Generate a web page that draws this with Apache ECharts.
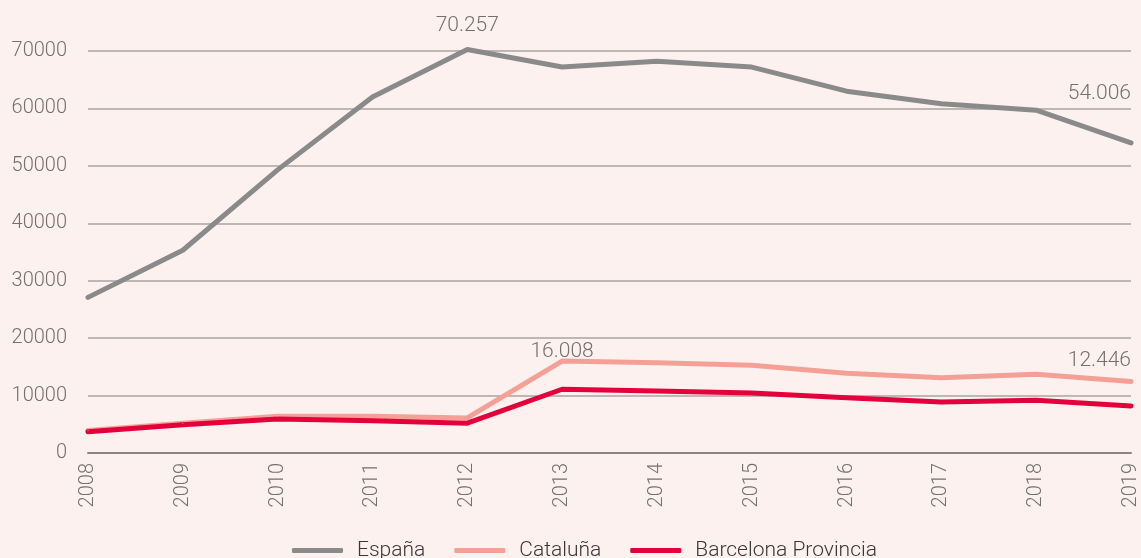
<!DOCTYPE html>
<html>
<head>
<meta charset="utf-8">
<script src="https://cdn.jsdelivr.net/npm/echarts@6/dist/echarts.min.js"></script>
<style>
  html, body { margin: 0; padding: 0; background: #fdf1f0; }
  #chart { width: 1141px; height: 558px; }
</style>
</head>
<body>
<div id="chart"></div>
<script>
// years on the x axis
var years = ['2008', '2009', '2010', '2011', '2012', '2013', '2014', '2015', '2016', '2017', '2018', '2019'];

// values
var espana = [27100, 35300, 49300, 62000, 70257, 67200, 68200, 67200, 63000, 60800, 59700, 54006];
var cataluna = [3900, 5200, 6400, 6400, 6100, 16008, 15700, 15300, 13900, 13100, 13700, 12446];
var barcelona = [3700, 4900, 5900, 5600, 5200, 11100, 10800, 10450, 9600, 8900, 9200, 8200];

// which points get a value label (and how far it is nudged)
var espanaLabels = { 4: [0, -8], 11: [0, -33] };
var catalunaLabels = { 5: [0, 7], 11: [0, -5] };

var FONT = 'Roboto';
var labelColor = '#757070';

function fmt(v) {
    return String(v).replace(/\B(?=(\d{3})+(?!\d))/g, '.');
}

function withLabels(values, which) {
    return values.map(function (v, i) {
        if (!which[i]) return v;
        return {
            value: v,
            label: {
                show: true,
                position: 'top',
                align: i === values.length - 1 ? 'right' : 'center',
                offset: which[i],
                formatter: function (p) { return fmt(p.value); },
                color: labelColor,
                fontFamily: FONT,
                fontWeight: 300,
                fontSize: 21
            }
        };
    });
}

function lineSeries(name, data, color) {
    return {
        name: name,
        type: 'line',
        data: data,
        clip: false, // 70.257 sits a little above the top line
        showSymbol: true,
        symbol: 'circle',
        symbolSize: 1,
        color: color,
        itemStyle: { color: color },
        lineStyle: { width: 5, color: color, cap: 'round', join: 'round' }
    };
}

var chart = echarts.init(document.getElementById('chart'));

chart.setOption({
    backgroundColor: '#fdf1f0',
    animation: false,
    grid: { left: 88, right: 9, top: 51, bottom: 105 },
    legend: {
        top: 535,
        left: 287,
        icon: 'roundRect',
        itemWidth: 51,
        itemHeight: 5,
        itemGap: 29,
        textStyle: {
            color: '#3a3636',
            fontFamily: FONT,
            fontWeight: 300,
            fontSize: 21,
            padding: [0, 0, 0, 9]
        },
        data: ['España', 'Cataluña', 'Barcelona Provincia']
    },
    xAxis: {
        type: 'category',
        data: years,
        boundaryGap: false,
        axisLine: { lineStyle: { color: '#8a8585', width: 2 } },
        axisTick: { show: false },
        axisLabel: {
            rotate: 90,
            margin: 10,
            color: labelColor,
            fontFamily: FONT,
            fontWeight: 300,
            fontSize: 20
        }
    },
    yAxis: {
        type: 'value',
        min: 0,
        max: 70000,
        interval: 10000,
        axisLine: { show: false },
        axisTick: { show: false },
        splitLine: { lineStyle: { color: '#a9a3a3', width: 1.5 } },
        axisLabel: {
            margin: 21,
            formatter: function (v) { return String(v); },
            color: labelColor,
            fontFamily: FONT,
            fontWeight: 300,
            fontSize: 20
        }
    },
    series: [
        lineSeries('España', withLabels(espana, espanaLabels), '#8a8a8a'),
        lineSeries('Cataluña', withLabels(cataluna, catalunaLabels), '#f4a097'),
        lineSeries('Barcelona Provincia', barcelona, '#e4003a')
    ]
});

window.addEventListener('resize', function () {
    chart.resize();
});
</script>
</body>
</html>
